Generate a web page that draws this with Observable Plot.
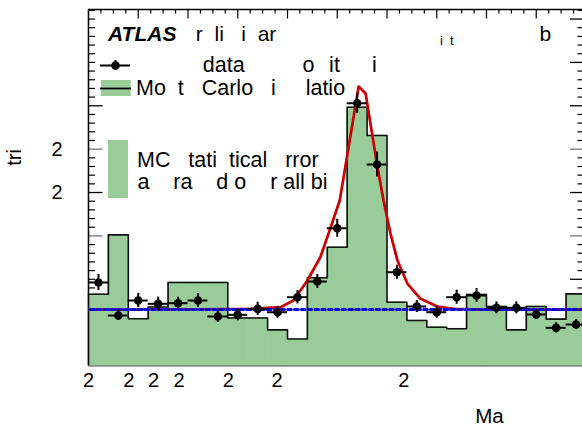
<!DOCTYPE html>
<html><head><meta charset="utf-8">
<script src="https://cdn.jsdelivr.net/npm/d3@7"></script>
<script src="https://cdn.jsdelivr.net/npm/@observablehq/plot@0.6"></script>
<style>html,body{margin:0;padding:0;background:#fff;overflow:hidden;}</style>
</head><body><div id="chart"></div>
<script>
// ---- data ----
const binEdges = [0.0,0.4,0.8,1.2,1.6,2.0,2.4,2.8,3.2,3.6,4.0,4.4,4.8,5.2,5.6,6.0,6.4,6.8,7.2,7.6,8.0,8.4,8.8,9.2,9.6,10.0];
const mcValues = [8.28,15.12,5.44,6.8,9.63,9.63,9.63,5.53,5.53,4.17,3.11,10.17,13.69,29.83,26.57,7.35,5.24,4.47,4.29,8.24,6.86,4.17,6.86,5.4,8.32];
const dataValues = [9.63,5.82,7.55,7.17,7.24,7.55,5.71,5.90,6.59,6.20,7.93,9.74,15.88,30.29,23.23,10.81,6.86,6.20,7.93,8.13,6.71,6.71,5.94,4.40,4.78];
const dataErrors = [0.92,0.58,0.81,0.77,0.69,0.81,0.69,0.69,0.77,0.69,0.77,0.81,1.04,1.15,1.44,0.81,0.69,0.69,0.81,0.81,0.69,0.69,0.58,0.58,0.58];
const fitX = [0.04,2.25,3.26,3.86,4.12,4.40,4.66,4.86,5.05,5.43,5.57,5.80,5.93,6.07,6.21,6.41,6.67,7.01,7.34,7.88,10.0];
const fitY = [6.51,6.54,6.59,6.78,7.55,9.86,12.54,15.85,19.08,32.22,31.41,23.23,19.08,15.27,12.16,9.51,7.78,6.86,6.59,6.51,6.51];
const bkgX = [0.04,10.0];
const bkgY = [6.51,6.51];
const xLabelPos = [0,0.81,1.31,1.82,2.81,3.79,6.34];
const xTickLabels = ["2","2","2","2","2","2","2"];
const yLabelPos = [20,25];
const yTickLabels = ["2","2"];

// ---- layout ----
const W = 582, H = 428, ML = 88, MT = 9, MB = 62.5, MR = -3.5;
const XMAX = 10, YMAX = 41.1;
const pxPerX = (W - MR - ML) / XMAX;
const pxPerY = (H - MB - MT) / YMAX;
const X = px => (px - ML) / pxPerX;
const Y = py => (H - MB - py) / pxPerY;
const GREEN = "#99cc99";
const FONT = "Liberation Sans, Arial, Helvetica, sans-serif";

const bins = mcValues.map((v, i) => ({x1: binEdges[i], x2: binEdges[i+1], v}));
const stepPts = bins.flatMap(b => [{x: b.x1, y: b.v}, {x: b.x2, y: b.v}]);
const pts = dataValues.map((v, i) => ({x: (binEdges[i] + binEdges[i+1]) / 2, x1: binEdges[i], x2: binEdges[i+1], v, e: dataErrors[i]}));
const fit = fitX.map((x, i) => ({x, y: fitY[i]}));
const bkg = bkgX.map((x, i) => ({x, y: bkgY[i]}));
const xLabelMap = new Map(xLabelPos.map((p, i) => [p, xTickLabels[i]]));
const yLabelMap = new Map(yLabelPos.map((p, i) => [p, yTickLabels[i]]));

const yTicks = d3.range(1, 42);
const yLongL = [20, 30], yMidL = [15, 25];
const topTicks = d3.range(0.25, 10, 0.25);

const legendText = [
  {t: "r  li   i  ar", px: 195.3, py: 33.3, fs: 21},
  {t: "i  t", px: 439.5, py: 40.8, fs: 13},
  {t: "b", px: 539, py: 33.3, fs: 21},
  {t: "data", px: 202.3, py: 64.8, fs: 21.5},
  {t: "o", px: 302, py: 64.8, fs: 21.5},
  {t: "it", px: 328.6, py: 64.8, fs: 21.5},
  {t: "i", px: 371.6, py: 64.8, fs: 21.5},
  {t: "Mo  t   Carlo   i     latio", px: 135.5, py: 88.1, fs: 21.5},
  {t: "MC   tati  tical   rror", px: 136.5, py: 159.7, fs: 21.5},
  {t: "a    ra    d o    r all bi", px: 137, py: 181.3, fs: 21.5}
];

const chart = Plot.plot({
  width: W, height: H,
  marginLeft: ML, marginTop: MT, marginBottom: MB, marginRight: MR,
  style: {fontFamily: FONT, fontSize: "20px", background: "#fff", color: "#000"},
  x: {domain: [0, XMAX]},
  y: {domain: [0, YMAX]},
  marks: [
    // inner ticks
    Plot.ruleY(yTicks.filter(d => !yLongL.includes(d) && !yMidL.includes(d)), {y: d => d, x1: 0, x2: X(ML + 7), stroke: "#000", strokeWidth: 1.2}),
    Plot.ruleY(yLongL, {y: d => d, x1: 0, x2: X(ML + 14.5), stroke: "#000", strokeWidth: 1.3}),
    Plot.ruleY(yMidL, {y: d => d, x1: 0, x2: X(ML + 14.5), stroke: "#777", strokeWidth: 1.3}),
    Plot.ruleY(yTicks.filter(d => d % 5 !== 0), {y: d => d, x1: XMAX - 8 / pxPerX, x2: XMAX, stroke: "#000", strokeWidth: 1.2}),
    Plot.ruleY(yTicks.filter(d => d % 5 === 0), {y: d => d, x1: XMAX - 15.5 / pxPerX, x2: XMAX, stroke: d => (d === 15 || d === 25) ? "#777" : "#000", strokeWidth: 1.3}),
    Plot.ruleX(topTicks.filter(d => Math.abs(d - Math.round(d)) > 1e-6), {x: d => d, y1: YMAX, y2: YMAX - 4.5 / pxPerY, stroke: "#000", strokeWidth: 1.2}),
    Plot.ruleX(topTicks.filter(d => Math.abs(d - Math.round(d)) < 1e-6), {x: d => d, y1: YMAX, y2: YMAX - 9.5 / pxPerY, stroke: "#000", strokeWidth: 1.2}),
    // MC histogram
    Plot.rectY(bins, {x1: "x1", x2: "x2", y: "v", fill: GREEN, stroke: GREEN, strokeWidth: 0.8}),
    Plot.line(stepPts, {x: "x", y: "y", stroke: "#111", strokeWidth: 1.6}),
    // frame
    Plot.ruleX([0], {stroke: "#000", strokeWidth: 1.6}),
    Plot.ruleY([YMAX], {stroke: "#000", strokeWidth: 1.6}),
    Plot.ruleY([0], {stroke: "#555", strokeWidth: 1}),
    // fit and background
    Plot.line(fit, {x: "x", y: "y", stroke: "#cc0000", strokeWidth: 2.7}),
    Plot.line(bkg, {x: "x", y: "y", stroke: "#0000dd", strokeWidth: 3, strokeDasharray: "3.6,3.2"}),
    // data
    Plot.ruleX(pts, {x: "x", y1: d => d.v - d.e, y2: d => d.v + d.e, stroke: "#000", strokeWidth: 2}),
    Plot.ruleY(pts, {y: "v", x1: "x1", x2: "x2", stroke: "#000", strokeWidth: 2}),
    Plot.dot(pts, {x: "x", y: "v", r: 4.3, fill: "#000"}),
    // legend
    Plot.text(["ATLAS"], {x: X(107.5), y: Y(33.3), text: d => d, textAnchor: "start", lineAnchor: "middle", fontSize: 21, fontWeight: "bold", fontStyle: "italic"}),
    Plot.text(legendText, {x: d => X(d.px), y: d => Y(d.py), text: "t", textAnchor: "start", lineAnchor: "middle", fontSize: d => d.fs}),
    Plot.ruleY([Y(65)], {x1: X(100), x2: X(130), stroke: "#000", strokeWidth: 2}),
    Plot.ruleX([X(115)], {y1: Y(70), y2: Y(60), stroke: "#000", strokeWidth: 2}),
    Plot.dot([[X(115), Y(65)]], {r: 4.3, fill: "#000"}),
    Plot.rect([0], {x1: X(101), x2: X(130.7), y1: Y(96), y2: Y(80), fill: GREEN}),
    Plot.ruleY([Y(88)], {x1: X(100), x2: X(131), stroke: "#000", strokeWidth: 1.8}),
    Plot.rect([0], {x1: X(108), x2: X(128), y1: Y(198), y2: Y(140), fill: GREEN}),
    // axes labels
    Plot.axisX({ticks: xLabelPos, tickFormat: d => xLabelMap.get(d), tickSize: 0, tickPadding: 7, label: null}),
    Plot.axisY({ticks: yLabelPos, tickFormat: d => yLabelMap.get(d), tickSize: 0, tickPadding: 26, label: null}),
    Plot.text(["tri"], {x: X(14), y: Y(157), text: d => d, rotate: -90, textAnchor: "middle", lineAnchor: "middle", fontSize: 20}),
    Plot.text(["Ma"], {x: X(489), y: Y(415.5), text: d => d, textAnchor: "middle", lineAnchor: "middle", fontSize: 20.5})
  ]
});
document.getElementById("chart").appendChild(chart);
</script>
</body></html>
